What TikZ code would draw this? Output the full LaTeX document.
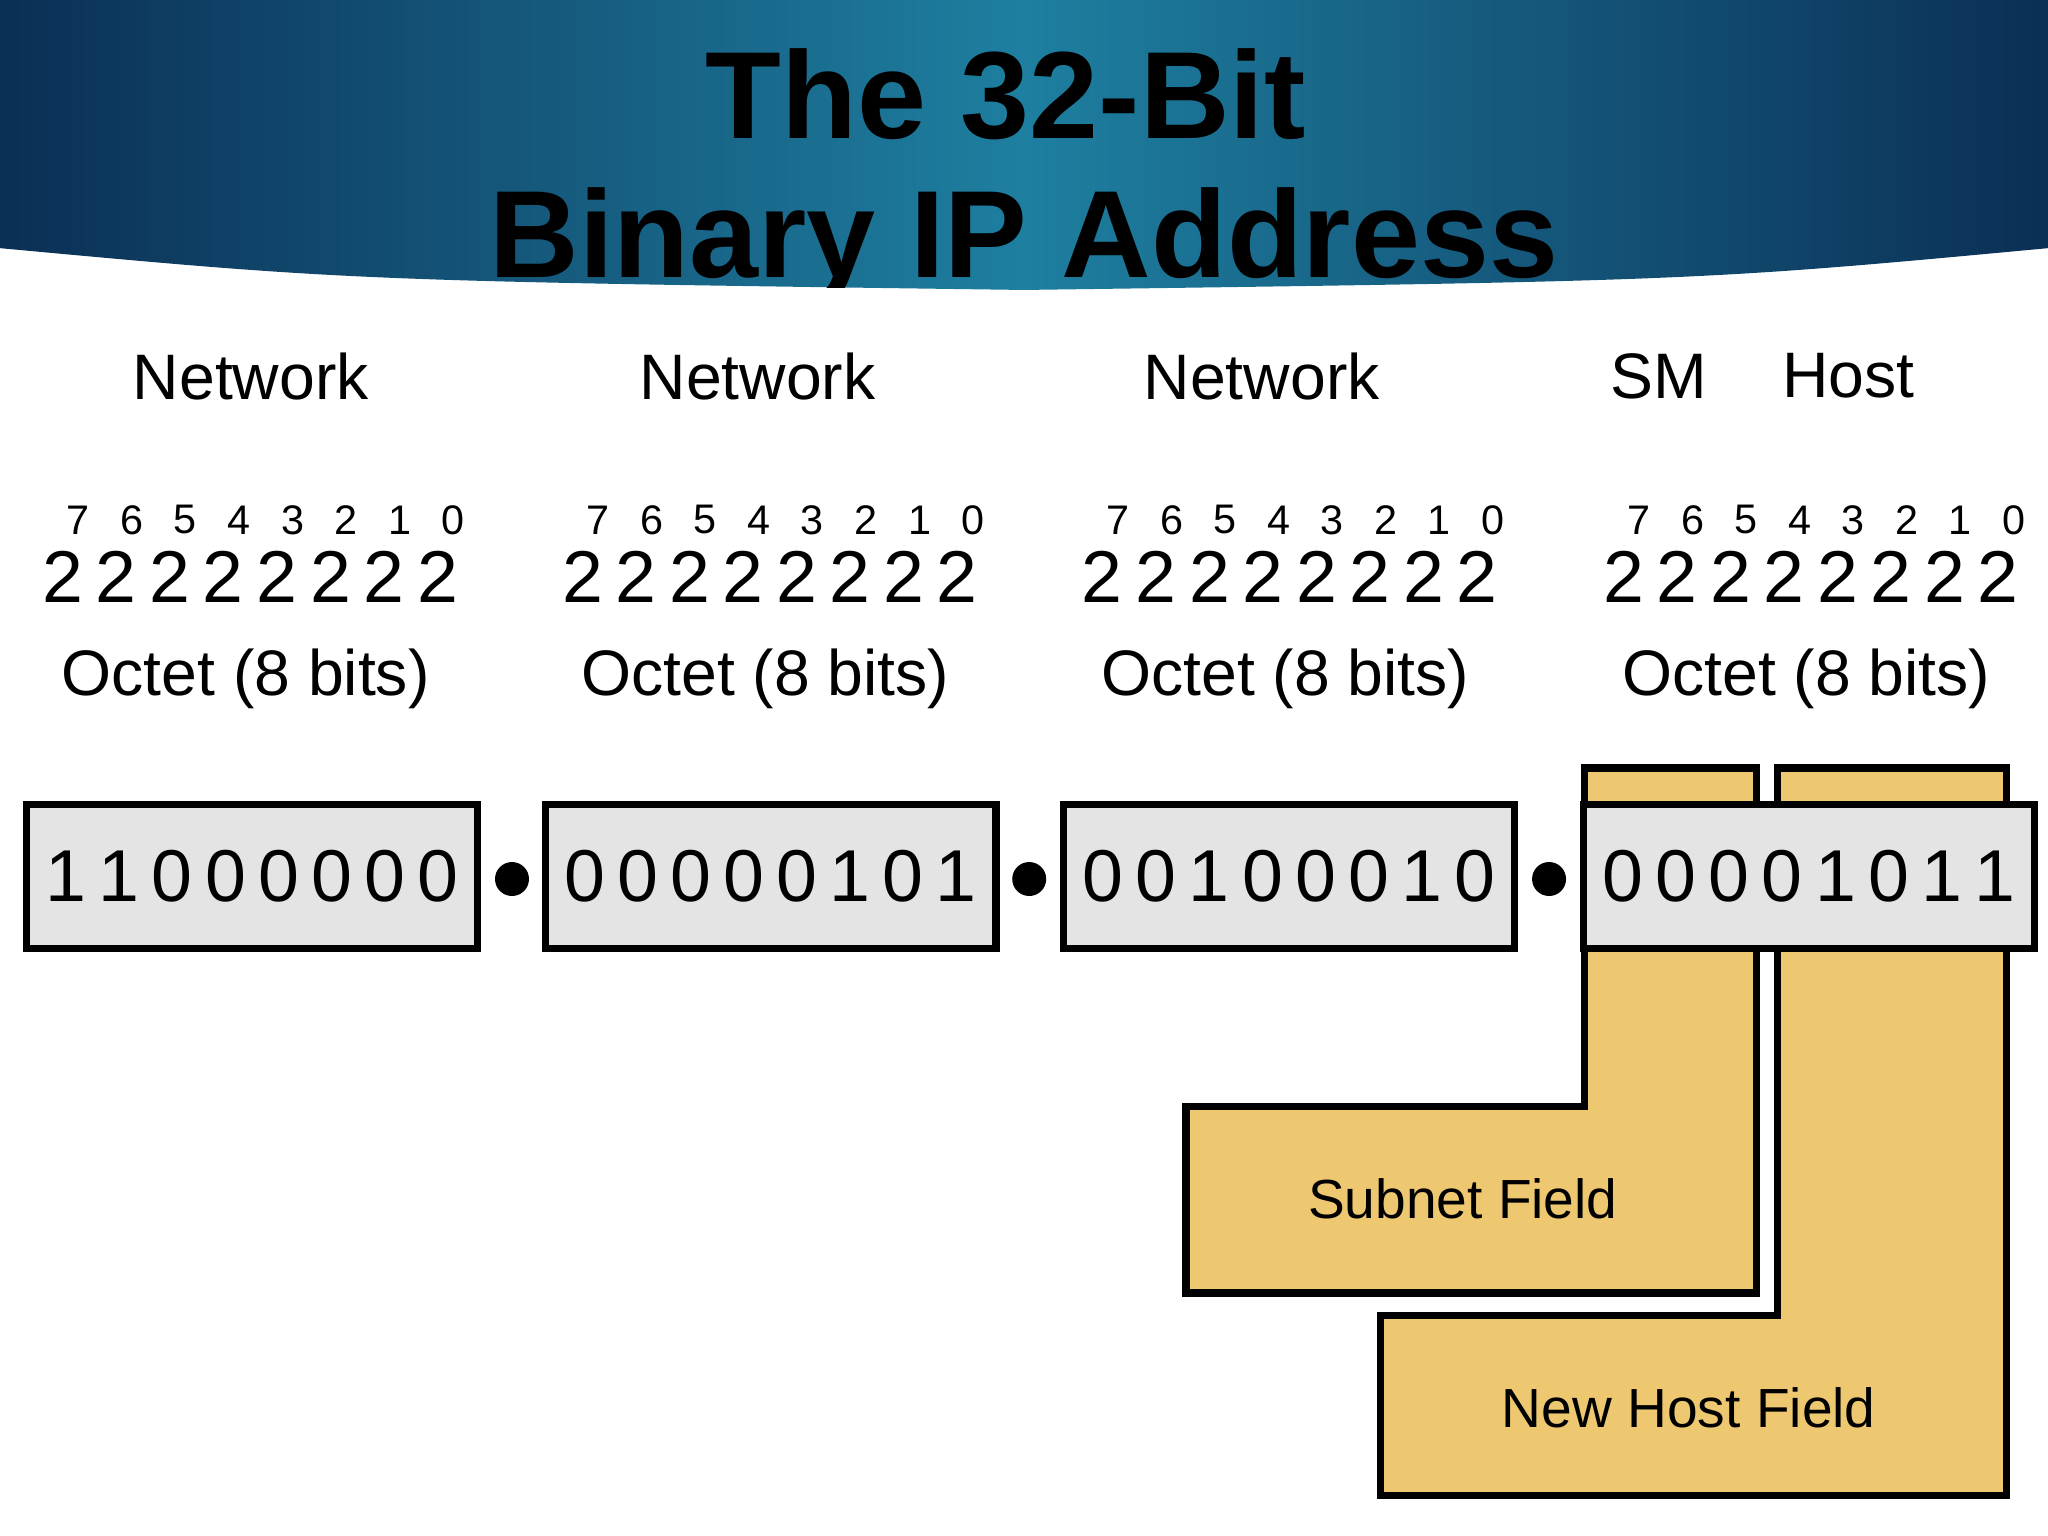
\documentclass[tikz,border=0pt]{standalone}
\usepackage{fontspec}
\setmainfont{Liberation Sans}
\usetikzlibrary{positioning}
\definecolor{fieldyellow}{HTML}{EDC870}
\definecolor{boxgray}{HTML}{E4E4E4}
\definecolor{banddark}{HTML}{0B2F55}
\definecolor{bandlight}{HTML}{1E7FA0}
\tikzstyle{octetbox} = [rectangle, draw=black, line width=1.6pt, fill=boxgray,
  minimum width=3.45cm, minimum height=1.1cm, inner sep=0pt, font=\fontsize{16}{16}\selectfont]
\tikzstyle{field} = [draw=black, line width=1.6pt, fill=fieldyellow]
\tikzstyle{head} = [font=\fontsize{14}{14}\selectfont]
\tikzstyle{sep} = [circle, fill=black, inner sep=0pt, minimum size=0.26cm]

\begin{document}
\begin{tikzpicture}[x=0.01cm, y=-0.01cm]
  \useasboundingbox (0,0) rectangle (1568,1176);

  %% Title band
  \begin{scope}
    \clip (0,0) -- (1568,0) -- (1568,190) .. controls (1300,215) .. (784,222)
      .. controls (270,215) .. (0,190) -- cycle;
    \shade[left color=banddark, right color=banddark, middle color=bandlight]
      (0,0) rectangle (1568,230);
    \node (title1) at (770,72) {\fontsize{27}{27}\selectfont\bfseries The 32-Bit};
    \node (title2) at (784,188) {\fontsize{27}{27}\selectfont\bfseries Binary IP Address};
  \end{scope}

  %% Field labels
  \node (net1) [head] at (192,288) {Network};
  \node (net2) [head] at (580,288) {Network};
  \node (net3) [head] at (966,288) {Network};
  \node (sm) [head] at (1270,288) {SM};
  \node (host) [head] at (1415,288) {Host};

  %% Powers of two and octet captions
  \foreach \g/\x in {1/35, 2/433, 3/831, 4/1230} {
    \foreach \i in {0,...,7} {
      \pgfmathtruncatemacro{\p}{7-\i}
      \node (pow\g\i) [font=\fontsize{9}{9}\selectfont] at (\x+25+\i*41,398) {\p};
      \node (two\g\i) [font=\fontsize{16}{16}\selectfont] at (\x+13+\i*41,442) {2};
    }
    \node (oct\g) [head] at (\x+153,520) {Octet (8 bits)};
  }

  %% Subnet and host fields
  \draw [field] (1213,588) -- (1345,588) -- (1345,990) -- (908,990)
    -- (908,847) -- (1213,847) -- cycle;
  \draw [field] (1361,588) -- (1536,588) -- (1536,1145) -- (1057,1145)
    -- (1057,1007) -- (1361,1007) -- cycle;
  \node (subnet) [font=\fontsize{12}{12}\selectfont] at (1120,918) {Subnet Field};
  \node (newhost) [font=\fontsize{12}{12}\selectfont] at (1293,1078) {New Host Field};

  %% Binary octets
  \node (b1) [octetbox] at (193,671) {1\,1\,0\,0\,0\,0\,0\,0};
  \node (b2) [octetbox] at (590,671) {0\,0\,0\,0\,0\,1\,0\,1};
  \node (b3) [octetbox] at (987,671) {0\,0\,1\,0\,0\,0\,1\,0};
  \node (b4) [octetbox] at (1385,671) {0\,0\,0\,0\,1\,0\,1\,1};
  \node (d1) [sep] at (392,673) {};
  \node (d2) [sep] at (788,673) {};
  \node (d3) [sep] at (1186,673) {};

\end{tikzpicture}
\end{document}
